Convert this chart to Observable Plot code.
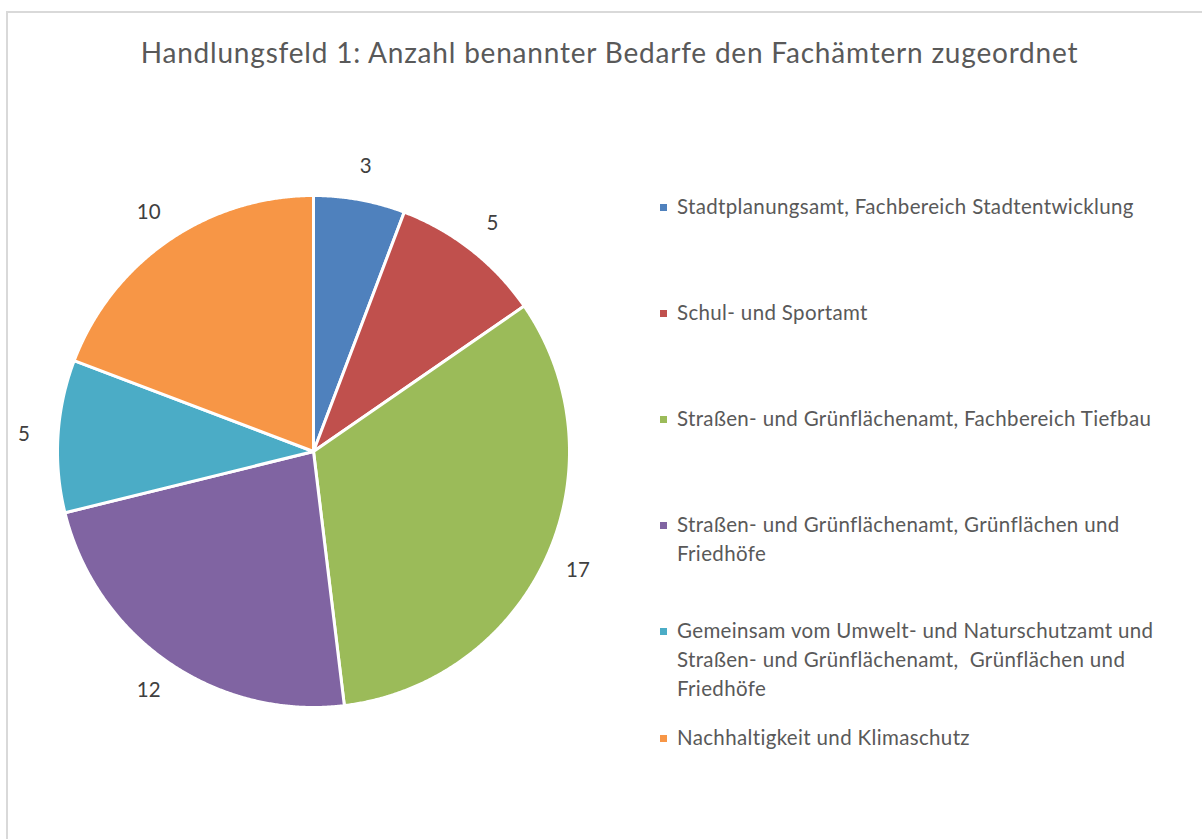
<!DOCTYPE html>
<html><head><meta charset="utf-8">
<script src="https://cdn.jsdelivr.net/npm/d3@7"></script>
<script src="https://cdn.jsdelivr.net/npm/@observablehq/plot@0.6"></script>
<style>
html,body{margin:0;padding:0;background:#fff;overflow:hidden;}
body{width:1202px;height:839px;position:relative;font-family:Lato,"Open Sans",sans-serif;}
#frame{position:absolute;left:6px;top:11px;width:1220px;height:860px;border:2px solid #d9d9d9;box-sizing:border-box;}
#chart{position:absolute;left:0;top:0;}
#chart svg{background:transparent;}
#title{position:absolute;left:0;width:1219px;top:36px;text-align:center;font-size:28px;letter-spacing:0.8px;line-height:32px;color:#595959;white-space:nowrap;}
.item{position:absolute;left:660px;font-size:20.5px;letter-spacing:0.35px;line-height:29px;color:#595959;white-space:pre;}
.sw{position:absolute;left:0;top:12px;width:7px;height:7px;}
.txt{position:absolute;left:17px;top:0;}
</style></head><body>
<div id="frame"></div>
<div id="chart"></div>
<div id="title"></div>
<div id="legend"></div>
<script>
const title = "Handlungsfeld 1: Anzahl benannter Bedarfe den Fachämtern zugeordnet";
const categories = [
  "Stadtplanungsamt, Fachbereich Stadtentwicklung",
  "Schul- und Sportamt",
  "Straßen- und Grünflächenamt, Fachbereich Tiefbau",
  "Straßen- und Grünflächenamt, Grünflächen und\nFriedhöfe",
  "Gemeinsam vom Umwelt- und Naturschutzamt und\nStraßen- und Grünflächenamt,  Grünflächen und\nFriedhöfe",
  "Nachhaltigkeit und Klimaschutz"
];
const values = [3, 5, 17, 12, 5, 10];
const colors = ["#4F81BD", "#C0504D", "#9BBB59", "#8064A2", "#4BACC6", "#F79646"];

document.getElementById("title").textContent = title;

const data = categories.map((c, i) => ({category: c, value: values[i]}));
const arcs = d3.pie().value(d => d.value).sort(null)(data);

const features = arcs.map(a => {
  const pts = [[0, 0]];
  const n = Math.max(2, Math.ceil((a.endAngle - a.startAngle) / 0.005));
  for (let k = 0; k <= n; k++) {
    const t = a.startAngle + (a.endAngle - a.startAngle) * k / n;
    pts.push([Math.sin(t), -Math.cos(t)]);
  }
  pts.push([0, 0]);
  return {type: "Feature", properties: {category: a.data.category, value: a.data.value}, geometry: {type: "Polygon", coordinates: [pts]}};
});

const labelR = 1.133;
const labels = arcs.map(a => {
  const m = (a.startAngle + a.endAngle) / 2;
  return {x: Math.sin(m) * labelR, y: -Math.cos(m) * labelR, text: String(a.data.value)};
});

const chart = Plot.plot({
  width: 640,
  height: 839,
  margin: 0,
  style: {background: "transparent", fontFamily: "Lato, 'Open Sans', sans-serif"},
  projection: d3.geoIdentity().scale(256).translate([313, 451]),
  color: {domain: categories, range: colors},
  marks: [
    Plot.geo(features, {fill: d => d.properties.category, stroke: "white", strokeWidth: 3, strokeLinejoin: "round"}),
    Plot.text(labels, {x: "x", y: "y", text: "text", fontSize: 20.5, fill: "#404040"})
  ]
});
document.getElementById("chart").appendChild(chart);

const legend = document.getElementById("legend");
const firstY = 206, step = 106.2;
categories.forEach((c, i) => {
  const item = document.createElement("div");
  item.className = "item";
  item.style.top = (firstY + i * step - 14.5) + "px";
  const sw = document.createElement("div");
  sw.className = "sw";
  sw.style.background = colors[i];
  const t = document.createElement("div");
  t.className = "txt";
  t.textContent = c;
  item.appendChild(sw);
  item.appendChild(t);
  legend.appendChild(item);
});
</script>
</body></html>
